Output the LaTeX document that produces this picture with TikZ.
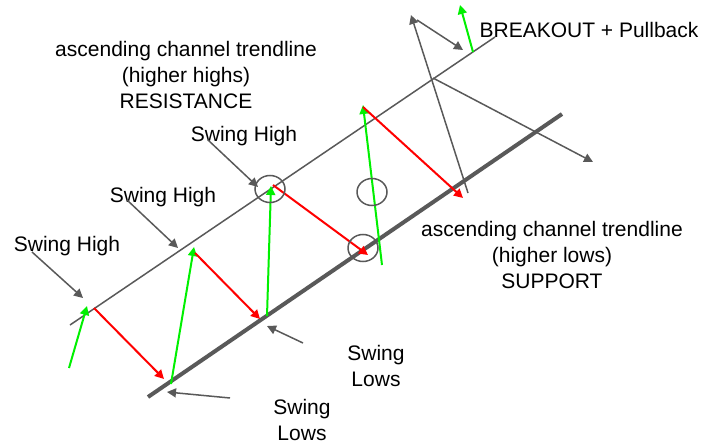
\documentclass[tikz,border=0pt]{standalone}
\usepackage{fontspec}
\setmainfont{Liberation Sans}
\usetikzlibrary{arrows.meta}
\definecolor{lin}{RGB}{89,89,89}
\definecolor{upc}{RGB}{0,240,0}
\definecolor{dnc}{RGB}{255,0,0}

\begin{document}
\begin{tikzpicture}[x=0.5pt,y=-0.5pt,font=\fontsize{10.5}{13}\selectfont,
  >={Triangle[length=4.5pt,width=4.5pt]},
  chan/.style={lin,line width=0.75pt},
  supp/.style={lin,line width=2pt},
  upmv/.style={->,upc,line width=1pt},
  dnmv/.style={->,dnc,line width=1pt},
  note/.style={->,lin,line width=0.75pt},
  ring/.style={draw=lin,line width=0.75pt},
  lbl/.style={align=center,inner sep=0pt}]
  \useasboundingbox (0,0) rectangle (711,443);
  % channel: resistance on top, support below
  \coordinate (rs) at (70,325); \coordinate (re) at (495,37);
  \coordinate (ss) at (148,397); \coordinate (se) at (562,114);
  \draw[chan] (rs)--(re);
  \draw[supp] (ss)--(se);
  % price swings
  \coordinate (p0) at (69,368);  \coordinate (h1) at (87,306);
  \coordinate (h1r) at (94,308); \coordinate (l1) at (164,379);
  \coordinate (l1g) at (171,384); \coordinate (h2) at (194,247);
  \coordinate (h2r) at (195,253); \coordinate (l2) at (260,319);
  \coordinate (l2g) at (267,316); \coordinate (h3) at (271,186);
  \coordinate (h3r) at (273,185); \coordinate (l3) at (368,255);
  \coordinate (l3g) at (382,265); \coordinate (h4) at (363,105);
  \coordinate (h4r) at (363,107); \coordinate (l4) at (463,198);
  \coordinate (b0) at (473,52);  \coordinate (b1) at (460,5);
  \draw[upmv] (p0)--(h1); \draw[dnmv] (h1r)--(l1);
  \draw[upmv] (l1g)--(h2); \draw[dnmv] (h2r)--(l2);
  \draw[upmv] (l2g)--(h3); \draw[dnmv] (h3r)--(l3);
  \draw[upmv] (l3g)--(h4); \draw[dnmv] (h4r)--(l4);
  \draw[upmv] (b0)--(b1);
  \draw[ring] (270,189) ellipse [x radius=15,y radius=13.5];
  \draw[ring] (372,192) ellipse [x radius=15,y radius=13.5];
  \draw[ring] (363,248) ellipse [x radius=15,y radius=13.5];
  % labels
  \node[lbl] (res) at (186,75) {ascending channel trendline\\(higher highs)\\RESISTANCE};
  \node[lbl] (sup) at (552,255) {ascending channel trendline\\(higher lows)\\SUPPORT};
  \node[lbl] (hiA) at (67,246) {Swing High};
  \node[lbl] (hiB) at (163,197) {Swing High};
  \node[lbl] (hiC) at (244,136) {Swing High};
  \node[lbl] (brk) at (589,30) {BREAKOUT + Pullback};
  \node[lbl] (lowA) at (302,420) {Swing\\Lows};
  \node[lbl] (lowB) at (376,366) {Swing\\Lows};
  % pointers
  \coordinate (nA) at (32,252);  \coordinate (tA) at (83,298);
  \coordinate (nB) at (127,200); \coordinate (tB) at (178,248);
  \coordinate (nC) at (208,140); \coordinate (tC) at (258,187);
  \coordinate (nD) at (230,398); \coordinate (tD) at (167,392);
  \coordinate (nE) at (303,343); \coordinate (tE) at (267,326);
  \draw[note] (nA)--(tA); \draw[note] (nB)--(tB); \draw[note] (nC)--(tC);
  \draw[note] (nD)--(tD); \draw[note] (nE)--(tE);
  % breakout and pullback
  \coordinate (k0) at (417,20); \coordinate (k1) at (463,50);
  \coordinate (m0) at (468,193); \coordinate (m1) at (411,15);
  \coordinate (x0) at (433,78); \coordinate (x1) at (593,162);
  \draw[note] (k0)--(k1); \draw[note] (m0)--(m1); \draw[note] (x0)--(x1);
\end{tikzpicture}
\end{document}
